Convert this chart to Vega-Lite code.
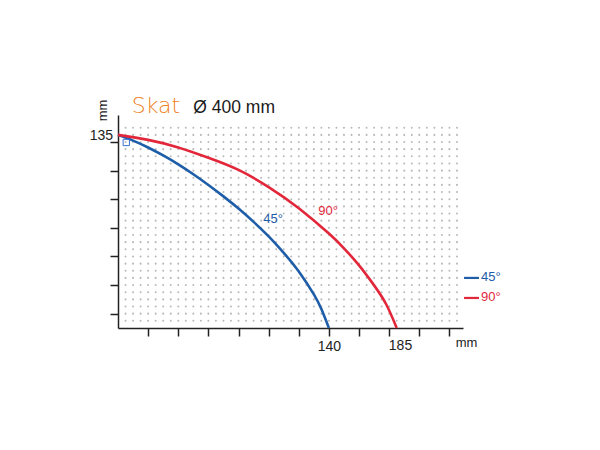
{
  "$schema": "https://vega.github.io/schema/vega-lite/v6.json",
  "width": 345,
  "height": 213,
  "autosize": {"type": "none"},
  "padding": {"left": 118, "top": 115, "right": 137, "bottom": 122},
  "background": "white",
  "config": {"view": {"stroke": null}, "font": "Liberation Sans"},
  "datasets": {
    "curves": [
      {"series": "45°", "x": 0, "y": 135},
      {"series": "45°", "x": 10, "y": 131},
      {"series": "45°", "x": 20, "y": 126.2},
      {"series": "45°", "x": 30, "y": 120.6},
      {"series": "45°", "x": 40, "y": 114.4},
      {"series": "45°", "x": 50, "y": 107.5},
      {"series": "45°", "x": 60, "y": 100},
      {"series": "45°", "x": 70, "y": 92},
      {"series": "45°", "x": 80, "y": 83.5},
      {"series": "45°", "x": 90, "y": 74.2},
      {"series": "45°", "x": 100, "y": 64},
      {"series": "45°", "x": 110, "y": 52.5},
      {"series": "45°", "x": 120, "y": 39.5},
      {"series": "45°", "x": 130, "y": 23.5},
      {"series": "45°", "x": 135, "y": 13.2},
      {"series": "45°", "x": 140, "y": 0},
      {"series": "90°", "x": 0, "y": 135},
      {"series": "90°", "x": 20, "y": 131.5},
      {"series": "90°", "x": 40, "y": 126.2},
      {"series": "90°", "x": 60, "y": 119},
      {"series": "90°", "x": 80, "y": 110.5},
      {"series": "90°", "x": 100, "y": 98.5},
      {"series": "90°", "x": 120, "y": 83.7},
      {"series": "90°", "x": 140, "y": 66},
      {"series": "90°", "x": 150, "y": 55.7},
      {"series": "90°", "x": 160, "y": 43.8},
      {"series": "90°", "x": 170, "y": 29.8},
      {"series": "90°", "x": 178, "y": 16.6},
      {"series": "90°", "x": 185, "y": 0}
    ],
    "dots": [
      {"x": 5}, {"x": 10}, {"x": 15}, {"x": 20}, {"x": 25}, {"x": 30}, {"x": 35}, {"x": 40}, {"x": 45},
      {"x": 50}, {"x": 55}, {"x": 60}, {"x": 65}, {"x": 70}, {"x": 75}, {"x": 80}, {"x": 85}, {"x": 90},
      {"x": 95}, {"x": 100}, {"x": 105}, {"x": 110}, {"x": 115}, {"x": 120}, {"x": 125}, {"x": 130},
      {"x": 135}, {"x": 140}, {"x": 145}, {"x": 150}, {"x": 155}, {"x": 160}, {"x": 165}, {"x": 170},
      {"x": 175}, {"x": 180}, {"x": 185}, {"x": 190}, {"x": 195}, {"x": 200}, {"x": 205}, {"x": 210},
      {"x": 215}, {"x": 220}, {"x": 225}
    ],
    "one": [{}]
  },
  "encoding": {
    "x": {
      "type": "quantitative",
      "scale": {"domain": [0, 229], "nice": false},
      "axis": {
        "values": [20, 40, 60, 80, 100, 120, 140, 160, 180, 200, 220],
        "labelExpr": "datum.value == 140 ? '140' : ''",
        "tickSize": 8, "tickWidth": 1.5, "tickColor": "#222",
        "domainColor": "#222", "domainWidth": 1.5,
        "grid": false, "labelFlush": false, "labelOverlap": false,
        "labelFontSize": 14, "labelColor": "#222", "labelPadding": 3,
        "title": "mm", "titleFontSize": 13, "titleFontWeight": "normal", "titleColor": "#222",
        "titleX": 348, "titleY": 14, "titleAlign": "center", "titleBaseline": "middle"
      }
    },
    "y": {
      "type": "quantitative",
      "scale": {"domain": [0, 148.9], "nice": false},
      "axis": {
        "values": [10, 30, 50, 70, 90, 110, 130],
        "labels": false,
        "tickSize": 8, "tickWidth": 1.5, "tickColor": "#222",
        "domainColor": "#222", "domainWidth": 1.5,
        "grid": false,
        "title": "mm", "titleFontSize": 13, "titleFontWeight": "normal", "titleColor": "#222",
        "titleAngle": 270, "titleX": -15.5, "titleY": -5, "titleAlign": "center", "titleBaseline": "middle"
      }
    }
  },
  "layer": [
    {
      "data": {"name": "dots"},
      "mark": {"type": "rule", "color": "#b9b9b9", "strokeWidth": 2, "strokeCap": "round", "strokeDash": [0.1, 7.052]},
      "encoding": {
        "x": {"field": "x", "type": "quantitative"},
        "y": {"datum": 5, "type": "quantitative"},
        "y2": {"datum": 140.5}
      }
    },
    {
      "data": {"name": "curves"},
      "mark": {"type": "line", "interpolate": "natural", "strokeWidth": 2.6},
      "encoding": {
        "x": {"field": "x", "type": "quantitative"},
        "y": {"field": "y", "type": "quantitative"},
        "color": {
          "field": "series", "type": "nominal",
          "scale": {"domain": ["45°", "90°"], "range": ["#1e5ea8", "#e2273b"]},
          "legend": null
        }
      }
    },
    {
      "data": {"name": "one"},
      "mark": {"type": "point", "shape": "square", "filled": false, "color": "#3a70d6", "size": 40, "strokeWidth": 1, "opacity": 1},
      "encoding": {"x": {"datum": 5.5}, "y": {"datum": 129.7}}
    },
    {
      "data": {"name": "one"},
      "mark": {"type": "text", "text": "135", "color": "#222", "fontSize": 14, "align": "right", "baseline": "middle"},
      "encoding": {"x": {"datum": -3.3}, "y": {"datum": 134.5}}
    },
    {
      "data": {"name": "one"},
      "mark": {"type": "text", "text": "185", "color": "#222", "fontSize": 14, "align": "center", "baseline": "top", "dy": 11},
      "encoding": {"x": {"datum": 187.5}, "y": {"datum": 0}}
    },
    {
      "data": {"name": "one"},
      "mark": {"type": "text", "text": "45°", "color": "#1e5ea8", "fontSize": 13, "align": "center", "baseline": "middle"},
      "encoding": {"x": {"datum": 102.9}, "y": {"datum": 76.2}}
    },
    {
      "data": {"name": "one"},
      "mark": {"type": "text", "text": "90°", "color": "#e2273b", "fontSize": 13, "align": "center", "baseline": "middle"},
      "encoding": {"x": {"datum": 139.4}, "y": {"datum": 81.8}}
    },
    {
      "data": {"name": "one"},
      "mark": {"type": "rule", "color": "#1e5ea8", "strokeWidth": 2.2},
      "encoding": {"x": {"datum": 229.7}, "x2": {"datum": 239.6}, "y": {"datum": 35}}
    },
    {
      "data": {"name": "one"},
      "mark": {"type": "rule", "color": "#e2273b", "strokeWidth": 2.2},
      "encoding": {"x": {"datum": 229.7}, "x2": {"datum": 239.6}, "y": {"datum": 21}}
    },
    {
      "data": {"name": "one"},
      "mark": {"type": "text", "text": "45°", "color": "#1e5ea8", "fontSize": 13, "align": "left", "baseline": "middle"},
      "encoding": {"x": {"datum": 240.9}, "y": {"datum": 35.5}}
    },
    {
      "data": {"name": "one"},
      "mark": {"type": "text", "text": "90°", "color": "#e2273b", "fontSize": 13, "align": "left", "baseline": "middle"},
      "encoding": {"x": {"datum": 240.9}, "y": {"datum": 21.5}}
    },
    {
      "data": {"name": "one"},
      "mark": {"type": "text", "text": "Skat", "color": "#ee7f22", "font": "DejaVu Sans", "fontWeight": 300, "fontSize": 22, "align": "left", "baseline": "alphabetic"},
      "encoding": {"x": {"datum": 9.1}, "y": {"datum": 150.3}}
    },
    {
      "data": {"name": "one"},
      "mark": {"type": "text", "text": "Ø 400 mm", "color": "#1a1a1a", "font": "Liberation Sans", "fontSize": 17.5, "align": "left", "baseline": "alphabetic"},
      "encoding": {"x": {"datum": 50}, "y": {"datum": 150.3}}
    }
  ]
}
